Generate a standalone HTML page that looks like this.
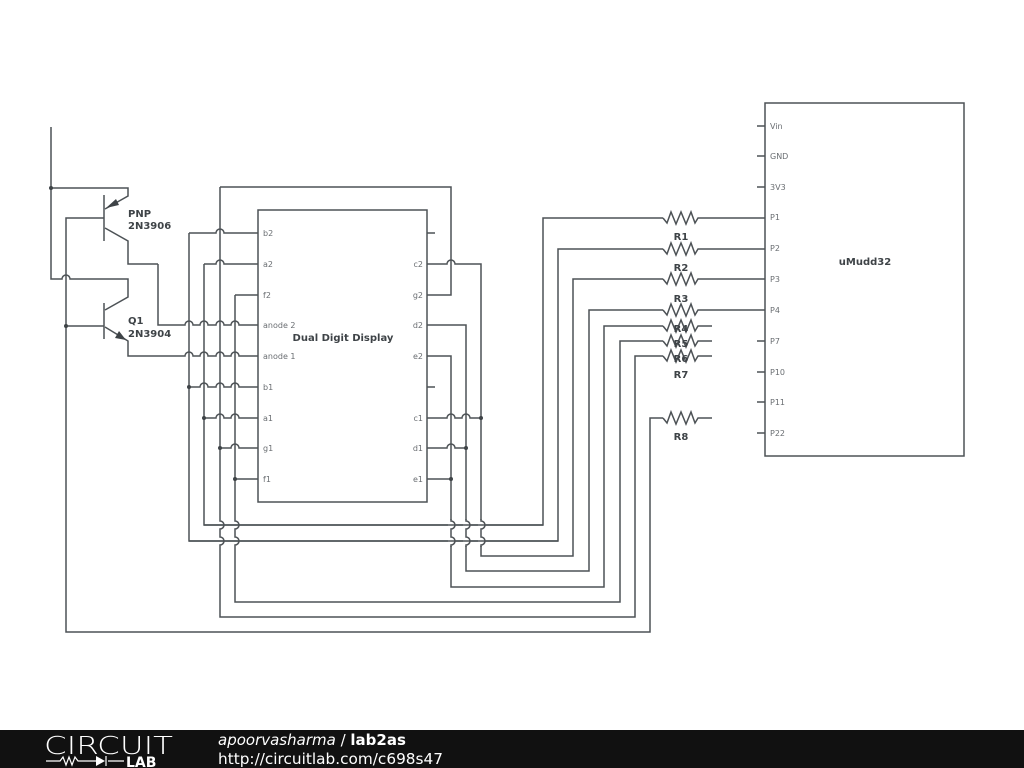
<!DOCTYPE html>
<html><head><meta charset="utf-8"><style>
html,body{margin:0;padding:0;background:#fff;width:1024px;height:768px;overflow:hidden;}
svg{display:block;}
.w{fill:none;stroke:#4d5256;stroke-width:1.5;}
.t{font-family:"DejaVu Sans","Liberation Sans",sans-serif;font-size:8px;fill:#6a6e72;}
.b{font-family:"DejaVu Sans","Liberation Sans",sans-serif;font-size:10px;font-weight:bold;fill:#3e4347;}
.d{fill:#3e4347;}
</style></head><body>
<svg width="1024" height="768" viewBox="0 0 1024 768">
<rect x="258" y="210" width="169" height="292" class="w"/>
<text x="343" y="341" class="b" text-anchor="middle" font-size="9.5">Dual Digit Display</text>
<g class="t">
<text x="263" y="236">b2</text><text x="263" y="267">a2</text><text x="263" y="298">f2</text>
<text x="263" y="328">anode 2</text><text x="263" y="359">anode 1</text><text x="263" y="390">b1</text>
<text x="263" y="421">a1</text><text x="263" y="451">g1</text><text x="263" y="482">f1</text>
<text x="423" y="267" text-anchor="end">c2</text><text x="423" y="298" text-anchor="end">g2</text>
<text x="423" y="328" text-anchor="end">d2</text><text x="423" y="359" text-anchor="end">e2</text>
<text x="423" y="421" text-anchor="end">c1</text><text x="423" y="451" text-anchor="end">d1</text>
<text x="423" y="482" text-anchor="end">e1</text>
</g>
<path class="w" d="M427 233H435M427 387H435"/>
<rect x="765" y="103" width="199" height="353" class="w"/>
<text x="865" y="265" class="b" text-anchor="middle" font-size="9.5">uMudd32</text>
<g class="t">
<text x="770" y="129">Vin</text><text x="770" y="159">GND</text><text x="770" y="190">3V3</text>
<text x="770" y="220">P1</text><text x="770" y="251">P2</text><text x="770" y="282">P3</text>
<text x="770" y="313">P4</text><text x="770" y="344">P7</text><text x="770" y="375">P10</text>
<text x="770" y="405">P11</text><text x="770" y="436">P22</text>
</g>
<path class="w" d="M757 126H765M757 156H765M757 187H765M757 341H765M757 372H765M757 402H765M757 433H765"/>
<g class="w">
<path d="M663 218L667 223L671 212L676 224L681 212L686 224L691 212L695 223L698 218H765"/>
<path d="M663 249L667 254L671 243L676 255L681 243L686 255L691 243L695 254L698 249H765"/>
<path d="M663 279L667 284L671 273L676 285L681 273L686 285L691 273L695 284L698 279H765"/>
<path d="M663 310L667 315L671 304L676 316L681 304L686 316L691 304L695 315L698 310H765"/>
<path d="M663 326L667 331L671 320L676 332L681 320L686 332L691 320L695 331L698 326H712"/>
<path d="M663 341L667 346L671 335L676 347L681 335L686 347L691 335L695 346L698 341H712"/>
<path d="M663 356L667 361L671 350L676 362L681 350L686 362L691 350L695 361L698 356H712"/>
<path d="M663 418L667 423L671 412L676 424L681 412L686 424L691 412L695 423L698 418H712"/>
</g>
<g class="b" text-anchor="middle">
<text x="681" y="240">R1</text><text x="681" y="271">R2</text><text x="681" y="302">R3</text>
<text x="681" y="332">R4</text><text x="681" y="347">R5</text><text x="681" y="362">R6</text>
<text x="681" y="378">R7</text><text x="681" y="440">R8</text>
</g>
<g class="w">
<path d="M189 233H216A4 4 0 0 1 224 233H258"/>
<path d="M204 264H216A4 4 0 0 1 224 264H258"/>
<path d="M235 295H258"/>
<path d="M158 264V325H185A4 4 0 0 1 193 325H200A4 4 0 0 1 208 325H216A4 4 0 0 1 224 325H231A4 4 0 0 1 239 325H258"/>
<path d="M128 346V356H185A4 4 0 0 1 193 356H200A4 4 0 0 1 208 356H216A4 4 0 0 1 224 356H231A4 4 0 0 1 239 356H258"/>
<path d="M189 387H200A4 4 0 0 1 208 387H216A4 4 0 0 1 224 387H231A4 4 0 0 1 239 387H258"/>
<path d="M204 418H216A4 4 0 0 1 224 418H231A4 4 0 0 1 239 418H258"/>
<path d="M220 448H231A4 4 0 0 1 239 448H258"/>
<path d="M235 479H258"/>
<path d="M189 233V541H558V249H663"/>
<path d="M204 264V525H543V218H663"/>
<path d="M220 187H451V295H427"/>
<path d="M220 187V521A4 4 0 0 1 220 529V537A4 4 0 0 1 220 545V617H635V356H663"/>
<path d="M235 295V521A4 4 0 0 1 235 529V537A4 4 0 0 1 235 545V602H620V341H663"/>
<path d="M427 264H447A4 4 0 0 1 455 264H481V556H573V279H663"/>
<path d="M427 325H466V571H589V310H663"/>
<path d="M427 356H451V587H604V326H663"/>
<path d="M427 418H447A4 4 0 0 1 455 418H462A4 4 0 0 1 470 418H481"/>
<path d="M427 448H447A4 4 0 0 1 455 448H466"/>
<path d="M427 479H451"/>
</g>
<g>
<rect x="448" y="520" width="6" height="26" fill="#fff"/>
<rect x="463" y="520" width="6" height="26" fill="#fff"/>
<rect x="478" y="520" width="6" height="26" fill="#fff"/>
</g>
<g class="w">
<path d="M204 525H543M189 541H558"/>
<path d="M451 519V521A4 4 0 0 1 451 529V537A4 4 0 0 1 451 545V547"/>
<path d="M466 519V521A4 4 0 0 1 466 529V537A4 4 0 0 1 466 545V547"/>
<path d="M481 519V521A4 4 0 0 1 481 529V537A4 4 0 0 1 481 545V547"/>
</g>
<g class="w">
<path d="M51 127V279H62A4 4 0 0 1 70 279H128V297L105 310"/>
<path d="M51 188H128V196L105 209"/>
<path d="M105 228L128 241V264H158"/>
<path d="M104 195V241M104 303V339"/>
<path d="M104 218H66V632H650V418H663"/>
<path d="M66 326H104"/>
<path d="M105 327L128 341V346"/>
</g>
<polygon class="d" points="106,208 116,199 119,205"/>
<polygon class="d" points="126,340 115,338 119,331"/>
<g class="b">
<text x="128" y="217">PNP</text><text x="128" y="229">2N3906</text>
<text x="128" y="324">Q1</text><text x="128" y="337">2N3904</text>
</g>
<g class="d">
<circle cx="51" cy="188" r="2"/><circle cx="66" cy="326" r="2"/>
<circle cx="189" cy="387" r="2"/><circle cx="204" cy="418" r="2"/>
<circle cx="220" cy="448" r="2"/><circle cx="235" cy="479" r="2"/>
<circle cx="481" cy="418" r="2"/><circle cx="466" cy="448" r="2"/><circle cx="451" cy="479" r="2"/>
</g>
<rect x="0" y="730" width="1024" height="38" fill="#111"/>
<text x="44" y="754" font-family="DejaVu Sans,sans-serif" font-size="25" font-weight="200" fill="#fff" textLength="129" lengthAdjust="spacingAndGlyphs">CIRCUIT</text>
<path d="M46 761H60L63 757L66 765L69 757L72 765L75 757L78 761H96M106 756V766M108 761H124" stroke="#fff" stroke-width="1.2" fill="none"/>
<polygon points="96,756 96,766 105,761" fill="#fff"/>
<text x="126" y="767" font-family="DejaVu Sans,sans-serif" font-size="14" font-weight="bold" fill="#fff">LAB</text>
<text x="218" y="745" font-family="DejaVu Sans,sans-serif" font-size="15" fill="#fff"><tspan font-style="italic">apoorvasharma</tspan> / <tspan font-weight="bold">lab2as</tspan></text>
<text x="218" y="764" font-family="DejaVu Sans,sans-serif" font-size="15" fill="#fff" textLength="225" lengthAdjust="spacingAndGlyphs">http://circuitlab.com/c698s47</text>
</svg>
</body></html>
